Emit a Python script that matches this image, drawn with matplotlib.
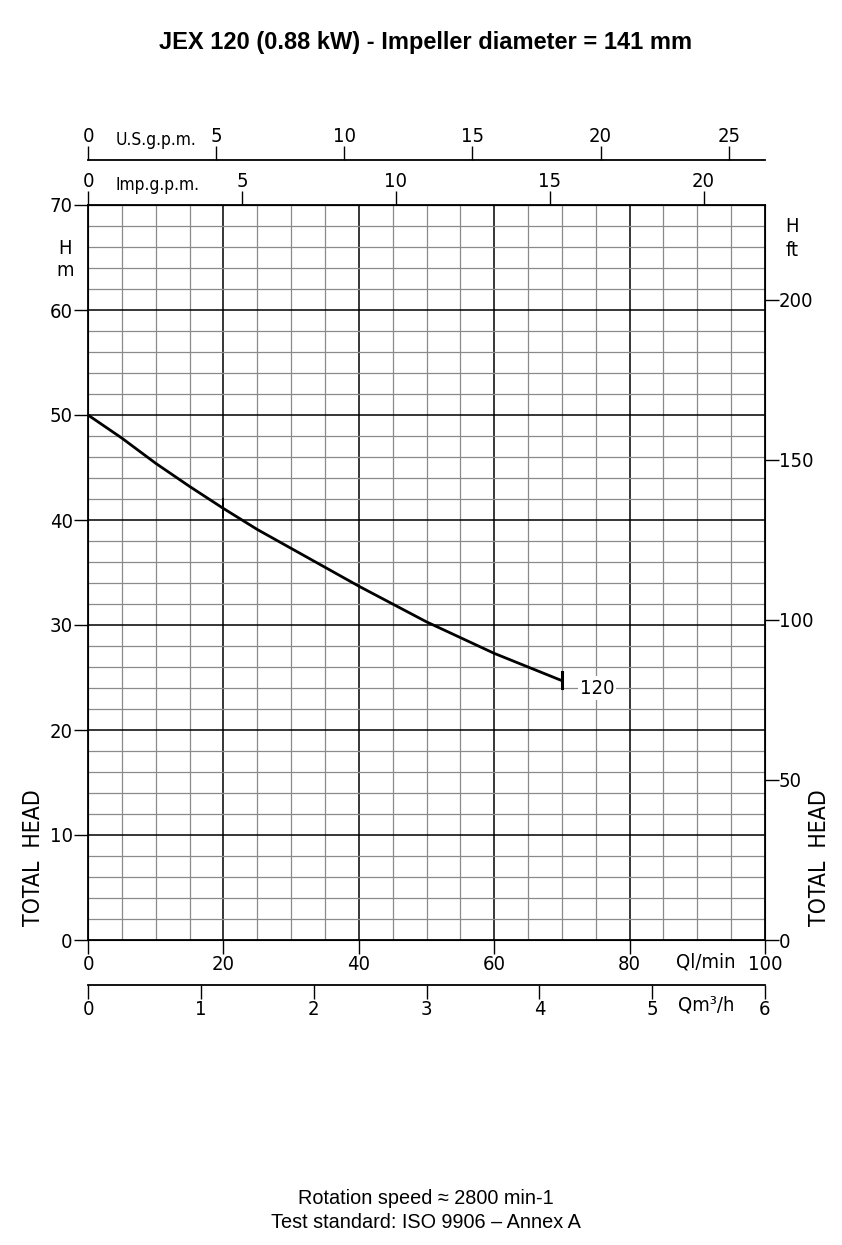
import matplotlib
matplotlib.use("Agg")
import matplotlib.pyplot as plt
import numpy as np

# pump curve JEX 120
q_lmin = [0, 5, 10, 15, 20, 25, 30, 35, 40, 45, 50, 55, 60, 65, 70]
head_m = [50, 47.8, 45.4, 43.2, 41.1, 39.1, 37.3, 35.5, 33.7, 32.0, 30.3, 28.8, 27.3, 26.0, 24.7]
curve_name = "120"
bep_q = 20

x_ticks = [0, 20, 40, 60, 80, 100]
y_ticks = [0, 10, 20, 30, 40, 50, 60, 70]
ft_ticks = [0, 50, 100, 150, 200]
imp_ticks = [0, 5, 10, 15, 20]
us_ticks = [0, 5, 10, 15, 20, 25]
m3h_ticks = [0, 1, 2, 3, 4, 5, 6]

LPM_PER_IMP = 4.54609
LPM_PER_US = 3.78541
LPM_PER_M3H = 1000 / 60
M_PER_FT = 0.3048

plt.rcParams['font.family'] = ['DejaVu Sans']
plt.rcParams['font.stretch'] = 'condensed'
TICK_FS = 14.5

W, H = 842, 1245
fig = plt.figure(figsize=(W / 100, H / 100), dpi=100)

x0, x1, y0, y1 = 88, 765, 940, 205
ax = fig.add_axes([x0 / W, 1 - y0 / H, (x1 - x0) / W, (y0 - y1) / H])
ax.set_xlim(0, 100)
ax.set_ylim(0, 70)

# grid
for q in np.arange(5, 100, 5):
    major = q % 20 == 0
    ax.axvline(q, color='black' if major else '#8a8a8a', lw=1.1 if major else 0.9, zorder=1)
for h in np.arange(2, 70, 2):
    major = h % 10 == 0
    ax.axhline(h, color='black' if major else '#8a8a8a', lw=1.1 if major else 0.9, zorder=1)

for s in ax.spines.values():
    s.set_linewidth(1.3)

ax.set_xticks(x_ticks)
ax.set_yticks(y_ticks)
ax.tick_params(axis='both', direction='out', length=10, width=1, labelsize=TICK_FS, pad=1)

# curve
ax.plot(q_lmin, head_m, color='black', lw=2.0, zorder=3, solid_capstyle='butt',
        solid_joinstyle='round')
h_bep = np.interp(bep_q, q_lmin, head_m)
ax.plot([bep_q, bep_q], [h_bep - 0.8, h_bep + 0.9], color='black', lw=1.3, zorder=3)
ax.plot([q_lmin[-1]] * 2, [head_m[-1] - 0.7, head_m[-1] + 0.8], color='black', lw=2.2, zorder=3)
ax.text(75.2, 24, curve_name, fontsize=TICK_FS, ha='center', va='center', zorder=4,
        bbox=dict(boxstyle='square,pad=0.1', fc='white', ec='none'))

# right feet axis
axr = ax.twinx()
axr.set_ylim(0, 70 / M_PER_FT)
axr.set_yticks(ft_ticks)
axr.tick_params(axis='y', direction='out', length=10, width=1, labelsize=TICK_FS, pad=0)

# top Imp.g.p.m. axis on the frame
imp = ax.secondary_xaxis('top', functions=(lambda v: v / LPM_PER_IMP, lambda v: v * LPM_PER_IMP))
imp.set_xticks(imp_ticks)
imp.tick_params(direction='out', length=10, width=1, labelsize=TICK_FS, pad=0)

# upper U.S.g.p.m. axis
us = ax.secondary_xaxis((y0 - 160) / (y0 - y1),
                        functions=(lambda v: v / LPM_PER_US, lambda v: v * LPM_PER_US))
us.set_xticks(us_ticks)
us.tick_params(direction='out', length=10, width=1, labelsize=TICK_FS, pad=0)
us.spines['top'].set_linewidth(1.3)

# bottom m3/h axis
m3 = ax.secondary_xaxis((y0 - 985) / (y0 - y1),
                        functions=(lambda v: v / LPM_PER_M3H, lambda v: v * LPM_PER_M3H))
m3.set_xticks(m3h_ticks)
m3.tick_params(direction='out', length=10, width=1, labelsize=TICK_FS, pad=1)
m3.spines['bottom'].set_linewidth(1.3)

# unit labels
def px(x, y, s, **kw):
    fig.text(x / W, 1 - y / H, s, **kw)

px(116, 140, "U.S.g.p.m.", fontsize=12.5, ha='left', va='center')
px(116, 185, "Imp.g.p.m.", fontsize=12.5, ha='left', va='center')
px(65, 248, "H", fontsize=TICK_FS, ha='center', va='center')
px(65, 270, "m", fontsize=TICK_FS, ha='center', va='center')
px(792, 227, "H", fontsize=TICK_FS, ha='center', va='center')
px(792, 250, "ft", fontsize=TICK_FS, ha='center', va='center')
px(706, 962, "Ql/min", fontsize=TICK_FS, ha='center', va='center')
px(706, 1005, "Qm\u00b3/h", fontsize=TICK_FS, ha='center', va='center')
px(34, 858, "TOTAL  HEAD", fontsize=16.5, rotation=90, ha='center', va='center')
px(820, 858, "TOTAL  HEAD", fontsize=16.5, rotation=90, ha='center', va='center')

px(426, 42, "JEX 120 (0.88 kW) - Impeller diameter = 141 mm", fontsize=17,
   fontweight='bold', family='Liberation Sans', fontstretch='normal', ha='center', va='center')
px(426, 1198, "Rotation speed \u2248 2800 min-1", fontsize=14.3, family='Liberation Sans',
   fontstretch='normal', ha='center', va='center')
px(426, 1222, "Test standard: ISO 9906 \u2013 Annex A", fontsize=14.3, family='Liberation Sans',
   fontstretch='normal', ha='center', va='center')

fig.savefig("out.png", dpi=100)
